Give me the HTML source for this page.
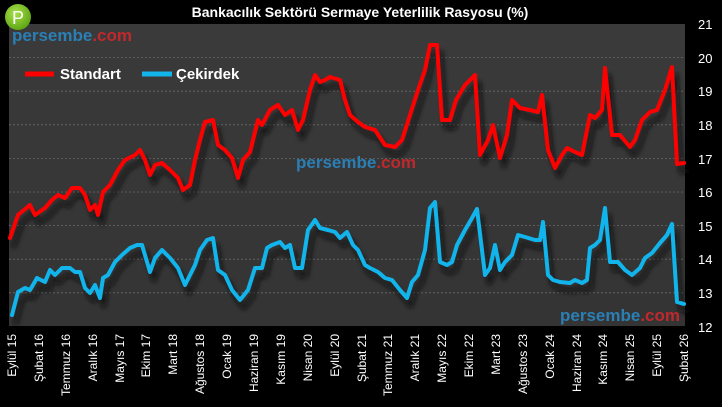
<!DOCTYPE html>
<html><head><meta charset="utf-8"><style>
body{margin:0;background:#000;width:722px;height:402px;overflow:hidden}
</style></head><body>
<svg width="722" height="402" viewBox="0 0 722 402" xmlns="http://www.w3.org/2000/svg" font-family="'Liberation Sans', 'DejaVu Sans', sans-serif">
<defs>
<linearGradient id="bg" x1="0" y1="0" x2="0" y2="1"><stop offset="0" stop-color="#3a3a3a"/><stop offset="1" stop-color="#343434"/></linearGradient>
<filter id="sh" x="-5%" y="-10%" width="110%" height="130%"><feGaussianBlur stdDeviation="2.5"/></filter>
<radialGradient id="pg" cx="0.4" cy="0.35" r="0.7"><stop offset="0" stop-color="#a8e04a"/><stop offset="1" stop-color="#5aa312"/></radialGradient>
</defs>
<rect x="9" y="24" width="676" height="302" fill="url(#bg)"/>
<g stroke="#6a6a6a" stroke-width="0.8" stroke-dasharray="2,2">
<line x1="9" x2="685" y1="57.6" y2="57.6"/><line x1="9" x2="685" y1="91.2" y2="91.2"/><line x1="9" x2="685" y1="124.8" y2="124.8"/><line x1="9" x2="685" y1="158.4" y2="158.4"/><line x1="9" x2="685" y1="192" y2="192"/><line x1="9" x2="685" y1="225.6" y2="225.6"/><line x1="9" x2="685" y1="259.2" y2="259.2"/><line x1="9" x2="685" y1="292.8" y2="292.8"/>
</g>
<text x="12" y="41" font-size="17" font-weight="bold" fill="#2a7fb5">persembe<tspan fill="#c0282d">.com</tspan></text>
<text x="296" y="168" font-size="17" font-weight="bold" fill="#2a7fb5">persembe<tspan fill="#c0282d">.com</tspan></text>
<text x="560" y="321" font-size="17" font-weight="bold" fill="#2a7fb5">persembe<tspan fill="#c0282d">.com</tspan></text>
<g fill="none" stroke-width="4" stroke-linejoin="round" stroke-linecap="round">
<polyline filter="url(#sh)" stroke="#111" opacity="0.8" transform="translate(4,8)" points="10,238 18,215 30,205 35,215 45,208 52,200 58,195 65,198 72,188 80,188 85,195 90,210 95,205 98,215 103,192 110,185 118,170 125,160 135,155 140,150 145,160 150,175 155,165 162,163 170,170 178,178 183,190 190,185 195,160 200,140 205,122 213,120 218,145 225,150 232,158 238,178 243,160 250,152 258,120 262,125 270,110 278,105 285,115 292,110 298,130 303,120 310,90 315,75 320,82 325,80 330,77 340,80 345,100 350,115 358,122 365,127 375,130 385,145 395,147 402,140 410,115 418,90 425,70 430,45 437,45 442,120 450,120 456,100 465,85 475,75 480,155 488,140 493,125 500,158 507,135 512,100 520,108 530,110 538,112 542,95 548,150 555,168 562,155 567,148 575,152 582,155 590,115 595,118 602,110 605,68 612,135 620,135 630,147 635,140 642,120 650,112 657,110 665,90 672,67 677,164 684,163"/>
<polyline filter="url(#sh)" stroke="#111" opacity="0.8" transform="translate(4,8)" points="12,315 18,292 25,288 30,290 37,278 45,282 50,270 55,275 62,268 70,268 75,272 80,272 85,288 90,293 95,285 100,298 103,278 108,275 115,262 122,255 130,248 137,245 142,245 150,272 155,258 162,250 170,258 178,268 185,285 190,275 195,265 200,250 207,240 213,238 218,270 225,275 232,290 240,300 248,290 255,268 262,268 267,248 272,245 280,242 285,248 290,245 295,268 302,268 308,230 315,220 320,228 328,230 335,232 340,238 347,232 353,245 358,250 365,265 370,268 378,272 385,278 392,280 400,290 407,298 412,282 418,275 425,250 430,208 435,202 440,262 447,265 452,262 457,245 465,230 472,218 477,209 485,275 490,268 495,245 500,270 505,262 512,255 518,235 525,237 535,240 540,240 543,222 548,275 553,280 560,282 570,283 575,280 582,283 587,280 590,248 595,245 600,240 605,208 610,262 618,262 625,270 632,275 640,268 645,258 652,253 660,243 667,235 672,224 677,302 684,304"/>
<polyline stroke="#ff0000" points="10,238 18,215 30,205 35,215 45,208 52,200 58,195 65,198 72,188 80,188 85,195 90,210 95,205 98,215 103,192 110,185 118,170 125,160 135,155 140,150 145,160 150,175 155,165 162,163 170,170 178,178 183,190 190,185 195,160 200,140 205,122 213,120 218,145 225,150 232,158 238,178 243,160 250,152 258,120 262,125 270,110 278,105 285,115 292,110 298,130 303,120 310,90 315,75 320,82 325,80 330,77 340,80 345,100 350,115 358,122 365,127 375,130 385,145 395,147 402,140 410,115 418,90 425,70 430,45 437,45 442,120 450,120 456,100 465,85 475,75 480,155 488,140 493,125 500,158 507,135 512,100 520,108 530,110 538,112 542,95 548,150 555,168 562,155 567,148 575,152 582,155 590,115 595,118 602,110 605,68 612,135 620,135 630,147 635,140 642,120 650,112 657,110 665,90 672,67 677,164 684,163"/>
<polyline stroke="#12b4ec" points="12,315 18,292 25,288 30,290 37,278 45,282 50,270 55,275 62,268 70,268 75,272 80,272 85,288 90,293 95,285 100,298 103,278 108,275 115,262 122,255 130,248 137,245 142,245 150,272 155,258 162,250 170,258 178,268 185,285 190,275 195,265 200,250 207,240 213,238 218,270 225,275 232,290 240,300 248,290 255,268 262,268 267,248 272,245 280,242 285,248 290,245 295,268 302,268 308,230 315,220 320,228 328,230 335,232 340,238 347,232 353,245 358,250 365,265 370,268 378,272 385,278 392,280 400,290 407,298 412,282 418,275 425,250 430,208 435,202 440,262 447,265 452,262 457,245 465,230 472,218 477,209 485,275 490,268 495,245 500,270 505,262 512,255 518,235 525,237 535,240 540,240 543,222 548,275 553,280 560,282 570,283 575,280 582,283 587,280 590,248 595,245 600,240 605,208 610,262 618,262 625,270 632,275 640,268 645,258 652,253 660,243 667,235 672,224 677,302 684,304"/>
</g>
<line x1="25" x2="54" y1="74" y2="74" stroke="#ff0000" stroke-width="5"/>
<text x="60" y="79" font-size="15" font-weight="bold" fill="#fff">Standart</text>
<line x1="142" x2="172" y1="74" y2="74" stroke="#12b4ec" stroke-width="5"/>
<text x="176" y="79" font-size="15" font-weight="bold" fill="#fff">Çekirdek</text>
<circle cx="18" cy="17" r="13" fill="url(#pg)"/>
<text x="18" y="24" font-size="18" fill="#fff" text-anchor="middle">P</text>
<text x="360" y="17" font-size="14" font-weight="bold" fill="#fff" text-anchor="middle">Bankacılık Sektörü  Sermaye Yeterlilik Rasyosu (%)</text>
<g font-size="13" fill="#fff">
<text x="698" y="29">21</text><text x="698" y="63">20</text><text x="698" y="96">19</text><text x="698" y="130">18</text><text x="698" y="164">17</text><text x="698" y="197">16</text><text x="698" y="231">15</text><text x="698" y="264">14</text><text x="698" y="298">13</text><text x="698" y="332">12</text>
</g>
<g font-size="12" fill="#fff" text-anchor="end">
<text transform="translate(16,334) rotate(-90)">Eylül 15</text>
<text transform="translate(43,334) rotate(-90)">Şubat 16</text>
<text transform="translate(70,334) rotate(-90)">Temmuz 16</text>
<text transform="translate(97,334) rotate(-90)">Aralık 16</text>
<text transform="translate(124,334) rotate(-90)">Mayıs 17</text>
<text transform="translate(150,334) rotate(-90)">Ekim 17</text>
<text transform="translate(177,334) rotate(-90)">Mart 18</text>
<text transform="translate(204,334) rotate(-90)">Ağustos 18</text>
<text transform="translate(231,334) rotate(-90)">Ocak 19</text>
<text transform="translate(258,334) rotate(-90)">Haziran 19</text>
<text transform="translate(285,334) rotate(-90)">Kasım 19</text>
<text transform="translate(312,334) rotate(-90)">Nisan 20</text>
<text transform="translate(339,334) rotate(-90)">Eylül 20</text>
<text transform="translate(366,334) rotate(-90)">Şubat 21</text>
<text transform="translate(392,334) rotate(-90)">Temmuz 21</text>
<text transform="translate(419,334) rotate(-90)">Aralık 21</text>
<text transform="translate(446,334) rotate(-90)">Mayıs 22</text>
<text transform="translate(473,334) rotate(-90)">Ekim 22</text>
<text transform="translate(500,334) rotate(-90)">Mart 23</text>
<text transform="translate(527,334) rotate(-90)">Ağustos 23</text>
<text transform="translate(554,334) rotate(-90)">Ocak 24</text>
<text transform="translate(581,334) rotate(-90)">Haziran 24</text>
<text transform="translate(607,334) rotate(-90)">Kasım 24</text>
<text transform="translate(634,334) rotate(-90)">Nisan 25</text>
<text transform="translate(661,334) rotate(-90)">Eylül 25</text>
<text transform="translate(688,334) rotate(-90)">Şubat 26</text>
</g>
</svg>
</body></html>
